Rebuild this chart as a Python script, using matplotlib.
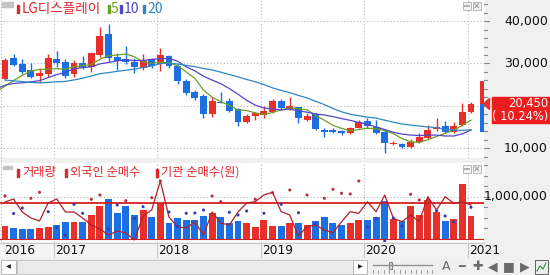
import matplotlib
matplotlib.use("Agg")
import matplotlib.pyplot as plt
import matplotlib.transforms as mtransforms
from matplotlib.patches import Rectangle, Polygon
import numpy as np
import pandas as pd

plt.rcParams['font.family'] = ['Noto Sans CJK KR', 'DejaVu Sans']

# monthly candles, Jul 2016 - Jan 2021
months = pd.date_range("2016-07-01", "2021-01-01", freq="MS")

opens = [26270, 31360, 29880, 28390, 27050, 27450, 30990, 30420, 27520, 30040,
         29240, 32000, 36950, 31450, 31060, 30280, 28860, 31060, 29810, 31760,
         29410, 25940, 23350, 22400, 18090, 21000, 21220, 19200, 16270, 17700,
         17850, 18630, 21220, 19200, 19670, 16670, 18020, 14320, 14250, 14080,
         13540, 14860, 16440, 15090, 13770, 10940, 11010, 10240, 11560, 12500,
         14480, 15260, 13910, 15490, 18630]
highs = [31360, 32170, 31060, 30040, 29010, 32170, 32940, 31060, 30820, 31760,
         32640, 38670, 39240, 32400, 34190, 31220, 32240, 31360, 33580, 32000,
         29810, 26270, 23750, 22800, 22170, 23300, 21790, 19400, 18090, 18490,
         20000, 21550, 21600, 22030, 19800, 18250, 18300, 14720, 14720, 14300,
         15090, 16670, 17070, 16670, 14320, 11720, 11250, 12190, 13540, 15490,
         17070, 16440, 16270, 20610, 20850]
lows = [26000, 29500, 27450, 26500, 25700, 26880, 29240, 26650, 26880, 28700,
        28060, 31600, 30420, 28460, 29810, 27690, 28460, 29010, 28230, 29010,
        25090, 22570, 21390, 17220, 17300, 20600, 18600, 15260, 16000, 16670,
        17070, 18400, 19030, 19030, 16040, 16500, 14250, 12590, 13540, 13140,
        13400, 14700, 14790, 13300, 8820, 10780, 10000, 10000, 11250, 12260,
        14000, 13700, 13700, 15260, 18400]
closes = [30820, 29640, 27920, 26880, 27690, 31220, 30180, 27120, 30040, 29010,
          32400, 36550, 31360, 30660, 30280, 29100, 30590, 29480, 32000, 29480,
          25940, 23110, 21930, 18090, 21150, 20700, 18870, 16270, 17620, 18250,
          18870, 21220, 19430, 19970, 17070, 17690, 14480, 13910, 13900, 13540,
          14720, 16130, 15260, 13540, 11180, 11180, 10240, 11560, 12740, 14320,
          15090, 13910, 15260, 18550, 20450]
# closes Dec 2014 - Jun 2016, only used to start the moving averages
prior_closes = [33000, 32000, 30500, 30000, 29000, 27000, 25500, 23000, 21000, 22000,
                25500, 26500, 24500, 25000, 24000, 23000, 22000, 21500, 26000]

volume = [307e3, 260e3, 236e3, 236e3, 260e3, 284e3, 331e3, 402e3, 402e3, 402e3,
          567e3, 780e3, 946e3, 615e3, 780e3, 567e3, 686e3, 520e3, 851e3, 378e3,
          496e3, 449e3, 449e3, 544e3, 615e3, 520e3, 378e3, 426e3, 378e3, 284e3,
          449e3, 307e3, 307e3, 378e3, 378e3, 331e3, 426e3, 520e3, 378e3, 331e3,
          378e3, 449e3, 449e3, 520e3, 898e3, 473e3, 426e3, 780e3, 567e3, 922e3,
          638e3, 426e3, 473e3, 1300e3, 544e3]
# net buying (억원)
foreign_net = [32, 108, -218, -368, -443, 8, 108, -218, -218, -368,
               -543, -643, -793, -693, -743, -918, -318, -168, 558, -343,
               -593, -618, -468, -793, -218, -493, -543, -218, 8, 40,
               208, 275, -210, -293, -818, -585, -543, -668, -735, -460,
               -210, -250, 40, -210, 208, -375, -460, -293, -460, 165,
               -168, 165, 0, 40, -43]
inst_net = [183, -255, -118, 125, 275, -210, -605, -793, -25, -250,
            100, 208, -643, -43, 65, -375, -85, 140, 558, -218,
            -585, -250, -243, -168, 183, 40, -225, -293, -193, 100,
            -250, 265, -25, 333, -235, 208, -518, 125, 350, 250,
            233, 558, -593, -375, -943, -368, -568, 225, 83, 100,
            -185, -318, -460, 15, -100]

years = ["2016", "2017", "2018", "2019", "2020", "2021"]
price_ticks = [10000, 20000, 30000, 40000]
last_price = 20450
last_change = "( 10.24%)"
range_top, range_bottom = 25870, 13910

RED = "#e8302b"
BLUE = "#1c6fe3"
C5, C10, C20 = "#6f9f22", "#5346c8", "#2e86c4"
LEG_RED = "#e0262b"

n = len(closes)
x = np.arange(n)
o = np.array(opens); h = np.array(highs); l = np.array(lows); c = np.array(closes)
up = c >= o
colors = [RED if u else BLUE for u in up]

allc = pd.Series(prior_closes + closes, dtype=float)
k0 = len(prior_closes) - 1
ma = {w: allc.rolling(w).mean().iloc[k0:].to_numpy() for w in (5, 10, 20)}
xm = np.arange(-1, n)

fig = plt.figure(figsize=(5.5, 2.75), dpi=100)
fig.patch.set_facecolor("#f0f0f0")

bg = fig.add_axes([0, 0, 1, 1], zorder=0)
bg.set_xlim(0, 550); bg.set_ylim(275, 0); bg.axis("off")

ax = fig.add_axes([0, 1 - 158 / 275, 484 / 550, 158 / 275], zorder=2)
axv = fig.add_axes([0, 1 - 242 / 275, 484 / 550, 79 / 275], zorder=2)
xl = ((0 - 5) / 8.63, (484 - 5) / 8.63)
year_x = [-0.23, 6 - 0.35, 18 - 0.35, 30 - 0.35, 42 - 0.35, 54 - 0.35]

for a in (ax, axv):
    a.set_facecolor("white")
    a.set_xlim(*xl)
    for s in a.spines.values():
        s.set_visible(False)
    a.set_xticks([])
    for yx in year_x[1:]:
        a.axvline(yx, color="#b4b4b4", lw=0.8, ls=(0, (1, 2)), zorder=0)

# ---- price panel
ax.set_ylim(7713, 44970)
ax.set_yticks([])
for p in price_ticks:
    ax.axhline(p, color="#b4b4b4", lw=0.8, ls=(0, (1, 2)), zorder=0)
ax.vlines(x, l, h, colors=colors, lw=1.0, zorder=3)
body = np.maximum(np.abs(c - o), 120)
ax.bar(x, body, bottom=np.minimum(o, c), width=0.8, color=colors, zorder=4)
ax.plot(xm, ma[5], color=C5, lw=0.9, zorder=5)
ax.plot(xm, ma[10], color=C10, lw=0.9, zorder=5)
ax.plot(xm, ma[20], color=C20, lw=0.9, zorder=5)
xr = (482 - 5) / 8.63
ax.bar(xr, range_top - last_price, bottom=last_price, width=0.45, color=RED, clip_on=False, zorder=5)
ax.bar(xr, last_price - range_bottom, bottom=range_bottom, width=0.45, color=BLUE, clip_on=False, zorder=5)

# ---- volume / net buying panel
axv.set_ylim(-70900, 1.797e6)
axv.set_yticks([])
axv.axhline(1e6, color="#b4b4b4", lw=0.8, ls=(0, (1, 2)), zorder=0)
axv.bar(x, volume, width=0.8, color=colors, zorder=2)
axv.axhline(0, color="#d42020", lw=0.8, zorder=3)
ax2 = axv.twinx()
ax2.set_ylim(-968, 1008)
ax2.axis("off")
ax2.axhline(0, color="#d42020", lw=1.3, zorder=3)
ax2.plot(x, foreign_net, color="#b0202c", lw=0.9, zorder=4)
dot_c = ["#b8303e" if v >= 0 else "#3a3ab0" for v in inst_net]
ax2.scatter(x, inst_net, s=5, c=dot_c, zorder=5, linewidths=0)

# ---- right axis labels
tp = mtransforms.blended_transform_factory(bg.transData, ax.transData)
for p in price_ticks:
    if p == 20000:
        continue  # hidden behind the current price box
    bg.text(548, p, f"{p:,}", transform=tp, ha="right", va="center", fontsize=9,
            family="DejaVu Sans", color="#111111")
for p in np.arange(8000, 44001, 2000):
    big = p % 10000 == 0
    bg.plot([484, 489 if big else 487], [p, p], transform=tp, color="#8a8a8a", lw=0.8)
tv = mtransforms.blended_transform_factory(bg.transData, axv.transData)
bg.text(548, 1e6, "1,000,000", transform=tv, ha="right", va="center", fontsize=9,
        family="DejaVu Sans", color="#111111")
for v in np.arange(250e3, 1.751e6, 250e3):
    big = v % 1e6 == 0
    bg.plot([484, 489 if big else 487], [v, v], transform=tv, color="#8a8a8a", lw=0.8)

bg.add_patch(Rectangle((491.7, 96.7), 58.3, 26.6, color="#ee1d1d", zorder=6))
bg.add_patch(Polygon([[483.5, last_price], [489.5, last_price + 1300], [489.5, last_price - 1300]],
                     closed=True, color="#e8302b", transform=tp, zorder=6))
bg.text(548, 103.2, f"{last_price:,}", ha="right", va="center", fontsize=8.3,
        family="DejaVu Sans", color="white", zorder=7)
bg.text(548, 116.8, last_change, ha="right", va="center", fontsize=8.3,
        family="DejaVu Sans", color="white", zorder=7)

# ---- legends (drawn in pixel space)
top = fig.add_axes([0, 0, 1, 1], zorder=3)
top.set_xlim(0, 550); top.set_ylim(275, 0); top.axis("off")
for xp, yp, col in [(17, 9, LEG_RED), (107.5, 9, C5), (120, 9, C10), (143, 9, C20)]:
    top.add_patch(Rectangle((xp, yp - 4), 2.2, 8, color=col))
top.text(21.5, 9, "LG디스플레이", fontsize=9.8, color=LEG_RED, va="center")
top.text(110.5, 9, "5", fontsize=10, color=C5, va="center")
top.text(124, 9, "10", fontsize=10, color=C10, va="center")
top.text(147, 9, "20", fontsize=10, color=C20, va="center")
for xp, label in [(17, "거래량"), (65, "외국인 순매수"), (156, "기관 순매수(원)")]:
    top.add_patch(Rectangle((xp, 169), 2.2, 8, color=LEG_RED))
    top.text(xp + 5, 172.5, label, fontsize=8.8, color=LEG_RED, va="center")

# panel icons
top.add_patch(Rectangle((2, 2), 11, 5, color="#c4c4c4"))
top.add_patch(Rectangle((3, 166), 9, 3, color="#c4c4c4"))
for yb in (2, 165):
    for xb in (463, 473):
        top.add_patch(Rectangle((xb, yb), 7.5, 7.5, facecolor="#f4f4f4", edgecolor="#b8b8b8", lw=0.7))
    top.plot([464.8, 468.8], [yb + 3.8, yb + 3.8], color="#a0a0a0", lw=1.2)
    top.plot([474.8, 478.8], [yb + 1.8, yb + 5.8], color="#a0a0a0", lw=0.8)
    top.plot([474.8, 478.8], [yb + 5.8, yb + 1.8], color="#a0a0a0", lw=0.8)
top.plot([1, 1], [0, 242], color="#b0b0b0", lw=0.8, ls=(0, (1, 2)))

# ---- date strip
bg.add_patch(Rectangle((0, 243), 484, 14, facecolor="#f4f4f4", edgecolor="none"))
bg.plot([0, 484], [243, 243], color="#c8c8c8", lw=0.8)
for yx, yr in zip(year_x, years):
    px = 5 + yx * 8.63
    if yr != "2016":
        bg.plot([px, px], [243, 257], color="#c8c8c8", lw=0.8)
    bg.text(px + 1, 250.5, yr, fontsize=8.8, family="DejaVu Sans", va="center", ha="left", color="#111111")

# ---- scroll bar / toolbar
bg.add_patch(Rectangle((0, 258), 550, 17, facecolor="#f0f0f0", edgecolor="none"))
bg.add_patch(Rectangle((1, 260), 15, 14, facecolor="#fdfdfd", edgecolor="#b8b8b8", lw=0.7))
bg.text(8.5, 267, "◀", fontsize=4.5, ha="center", va="center", color="#222222", family="DejaVu Sans")
bg.add_patch(Rectangle((17, 260), 336, 14, facecolor="#eaeaea", edgecolor="#c4c4c4", lw=0.7))
bg.add_patch(Rectangle((353, 260), 14, 14, facecolor="#fdfdfd", edgecolor="#b8b8b8", lw=0.7))
bg.text(360, 267, "▶", fontsize=4.5, ha="center", va="center", color="#222222", family="DejaVu Sans")
bg.plot([373, 432], [265, 265], color="#909090", lw=1.0)
bg.add_patch(Rectangle((389, 262), 2.5, 7, facecolor="#d8d8d8", edgecolor="#707070", lw=0.6))
for tx in np.linspace(373, 432, 12):
    bg.plot([tx, tx], [270, 273], color="#909090", lw=0.6)
for tx, s, fs in [(446, "A", 9), (461.5, "━", 8), (477.5, "✚", 9), (493, "◀", 9), (509, "■", 9), (525, "▶", 9)]:
    bg.text(tx, 267, s, fontsize=fs, ha="center", va="center", color="#6a6a6a", family="DejaVu Sans")
bg.add_patch(Rectangle((535, 260), 13, 14, facecolor="#e6f0e6", edgecolor="#606060", lw=0.7))
bg.plot([537, 540, 543, 546], [271, 266, 269, 263], color="#3a8a3a", lw=0.8)

fig.savefig("out.png", dpi=100, facecolor=fig.get_facecolor())
